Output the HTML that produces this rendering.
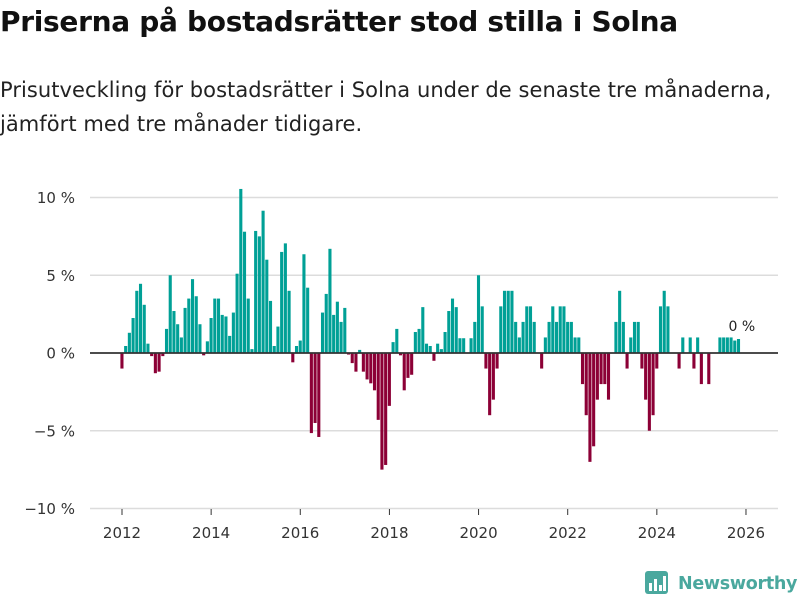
<!DOCTYPE html>
<html><head><meta charset="utf-8">
<style>
body{margin:0;background:#fff;font-family:"DejaVu Sans","Liberation Sans",sans-serif;}
#wrap{position:relative;width:800px;height:600px;overflow:hidden;}
h1{position:absolute;left:0;top:5px;margin:0;font-size:28px;font-weight:bold;color:#111;letter-spacing:-0.3px;white-space:nowrap;}
.sub{position:absolute;left:0;top:73px;margin:0;font-size:21px;line-height:34px;color:#222;width:800px;letter-spacing:0.05px;white-space:nowrap;}
svg{position:absolute;left:0;top:0;}
</style></head><body>
<div id="wrap">
<h1>Priserna på bostadsrätter stod stilla i Solna</h1>
<p class="sub">Prisutveckling för bostadsrätter i Solna under de senaste tre månaderna,<br>jämfört med tre månader tidigare.</p>
<svg id="chart" width="800" height="600"></svg>
</div>
<script>
const startYear = 2012;
const values = [
-1.0,0.45,1.3,2.25,4.0,4.45,3.1,0.6,-0.2,-1.3,-1.2,-0.2,
1.55,5.0,2.7,1.85,1.0,2.9,3.5,4.75,3.65,1.85,-0.15,0.75,
2.25,3.5,3.5,2.45,2.35,1.1,2.6,5.1,10.55,7.8,3.5,0.25,
7.85,7.5,9.15,6.0,3.35,0.45,1.7,6.5,7.05,4.0,-0.6,0.45,
0.8,6.35,4.2,-5.15,-4.5,-5.4,2.6,3.8,6.7,2.45,3.3,2.0,
2.9,-0.1,-0.65,-1.2,0.2,-1.2,-1.7,-1.95,-2.4,-4.3,-7.5,-7.2,
-3.4,0.7,1.55,-0.15,-2.4,-1.6,-1.4,1.35,1.55,2.95,0.6,0.45,
-0.5,0.6,0.25,1.35,2.7,3.5,2.95,0.95,0.95,0,0.95,2,
5,3,-1,-4,-3,-1,3,4,4,4,2,1,
2,3,3,2,0,-1,1,2,3,2,3,3,
2,2,1,1,-2,-4,-7,-6,-3,-2,-2,-3,
0,2,4,2,-1,1,2,2,-1,-3,-5,-4,
-1,3,4,3,0,0,-1,1,0,1,-1,1,
-2,0,-2,0,0,1,1,1,1,0.8,0.9
];
const yTicks = [10,5,0,-5,-10];
const yTickLabels = ["10 %","5 %","0 %","\u22125 %","\u221210 %"];
const xTicks = [2012,2014,2016,2018,2020,2022,2024,2026];
const lastLabel = "0 %";

const NS="http://www.w3.org/2000/svg";
const svg=document.getElementById('chart');
const FF='DejaVu Sans, Liberation Sans, sans-serif';
function y(v){return 353 - v*15.55;}
function xYear(yr){return 122 + (yr-2012)*44.57;}
function xMonth(i){return xYear(startYear) + i*44.57/12;}
function mk(t,a){const e=document.createElementNS(NS,t);for(const k in a)e.setAttribute(k,a[k]);svg.appendChild(e);return e;}

yTicks.forEach((t,k)=>{
  if(t!==0){const g=mk('line',{x1:90,x2:778,y1:y(t),y2:y(t),stroke:'#dcdcdc','stroke-width':1.5});
  
  }
  const l=mk('text',{x:75,y:y(t)+5.5,'text-anchor':'end','font-size':15,fill:'#333','font-family':FF});
  l.textContent=yTickLabels[k];
  
  
});
xTicks.forEach(t=>{
  const tk=mk('line',{x1:xYear(t),x2:xYear(t),y1:509,y2:515,stroke:'#333','stroke-width':1});
  
  
  const l=mk('text',{x:xYear(t),y:538,'text-anchor':'middle','font-size':15,fill:'#333','font-family':FF});
  l.textContent=t;
  
  
});
values.forEach((v,i)=>{
  const x=xMonth(i)-1.6;
  const r=mk('rect',{x:x,width:3.1,y:Math.min(y(v),y(0)),height:Math.abs(y(v)-y(0)),fill:v>=0?'#00a096':'#8c0036'});
  
  
});
const z=mk('line',{x1:90,x2:778,y1:y(0),y2:y(0),stroke:'#333','stroke-width':1.8});


const lastX=xMonth(values.length-1);
const ll=mk('text',{x:lastX-10,y:y(values[values.length-1])-8,'font-size':14,fill:'#222',stroke:'#fff','stroke-width':3,'paint-order':'stroke','font-family':FF});
ll.textContent=lastLabel;



const box=mk('rect',{x:645,y:571,width:23,height:23,rx:3,fill:'#4aa89e'});


[[649,583,3,8],[654,579,3,12],[659,585,3,6],[663,576,3,15]].forEach(b=>{
  const r=mk('rect',{x:b[0],y:b[1],width:b[2],height:b[3],fill:'#fff'});
  
  
});
const lt=mk('text',{x:678,y:589,'font-size':17.5,'font-weight':'bold',fill:'#4aa89e','font-family':FF,'letter-spacing':'-0.3'});
lt.textContent='Newsworthy';


</script>
</body></html>
